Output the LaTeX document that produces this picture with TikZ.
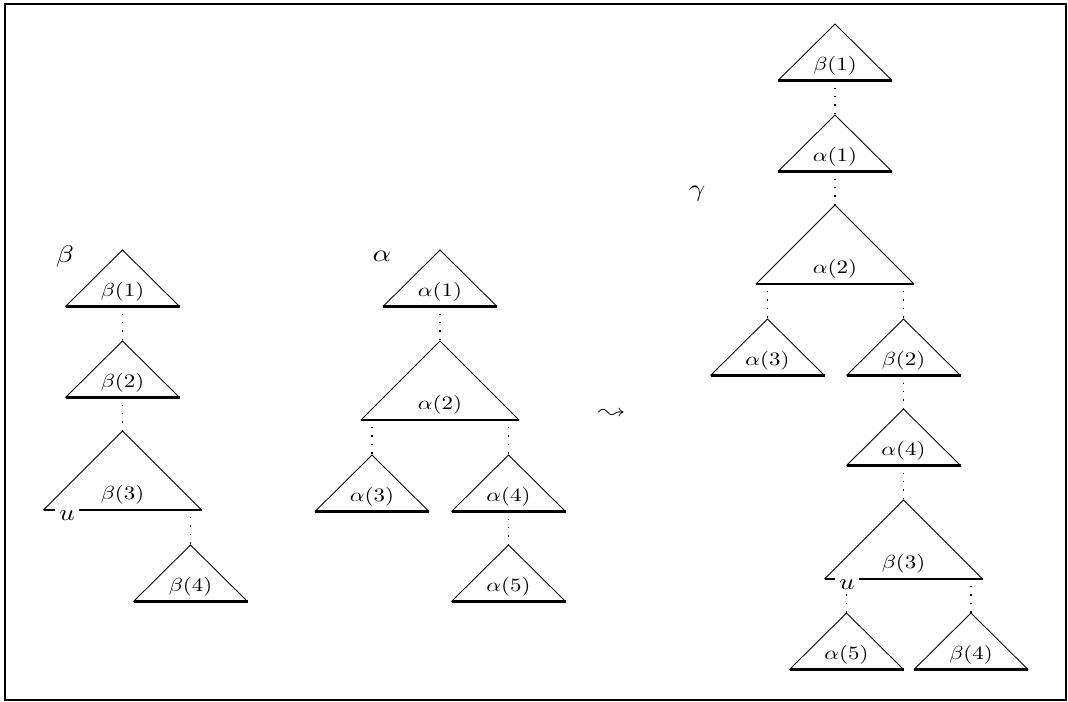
\documentclass[tikz,border=0pt]{standalone}
\usepackage{latexsym}
\usepackage{graphicx}
\tikzset{
  side/.style={line width=0.65pt},
  basel/.style={line width=1.6pt},
  dotl/.style={line width=1pt, dash pattern=on 1pt off 5.3pt, dash phase=1pt},
  lbl/.style={inner sep=0pt},
  biglbl/.style={inner sep=0pt},
  ulab/.style={fill=white, inner xsep=3pt, inner ysep=2pt},
  frame/.style={line width=1.2pt}
}
\newcommand{\smallstretch}[1]{\scalebox{1.72}[1.42]{#1}}
\newcommand{\bigstretch}[1]{\scalebox{2.16}[1.8]{#1}}
\newcommand{\ustretch}[1]{\scalebox{2.04}[1.7]{#1}}
\newcommand{\tri}[6]{%
  \coordinate (#1-top) at (#2,#3);
  \coordinate (#1-bl) at ({#2-#4},{#3+#5});
  \coordinate (#1-br) at ({#2+#4},{#3+#5});
  \coordinate (#1-bot) at (#2,{#3+#5});
  \draw[side] (#1-bl) -- (#1-top) -- (#1-br);
  \draw[basel] (#1-bl) -- (#1-br);
  \node[lbl] (#1-lbl) at (#2,{#3+#5-15}) {\smallstretch{$#6$}};
}
\begin{document}
\begin{tikzpicture}[x=0.75pt,y=-0.75pt]
\useasboundingbox (0,0) rectangle (1068,701);
\draw[frame] (5,4) rectangle (1066,700);

% left tree beta
\node[biglbl] (lbeta) at (65,256) {\bigstretch{$\beta$}};
\tri{lb1}{122.5}{250}{57}{56.5}{\beta(1)}
\tri{lb2}{122.5}{341}{57}{56.5}{\beta(2)}
\tri{lb3}{122.5}{431}{79}{79}{\beta(3)}
\tri{lb4}{190.5}{545}{57}{56.5}{\beta(4)}
\draw[dotl] (lb1-bot) -- (lb2-top);
\draw[dotl] (lb2-bot) -- (lb3-top);
\draw[dotl] (lb4-top |- lb3-bot) -- (lb4-top);
\node[ulab] (lu) at (67,515.5) {\ustretch{$u$}};

% middle tree alpha
\node[biglbl] (malpha) at (382,256.5) {\bigstretch{$\alpha$}};
\tri{ma1}{440}{250}{57}{56.5}{\alpha(1)}
\tri{ma2}{440}{341}{79}{79}{\alpha(2)}
\tri{ma3}{372}{455}{57}{56.5}{\alpha(3)}
\tri{ma4}{508.5}{455}{57}{56.5}{\alpha(4)}
\tri{ma5}{508.5}{545}{57}{56.5}{\alpha(5)}
\draw[dotl] (ma1-bot) -- (ma2-top);
\draw[dotl] (ma3-top |- ma2-bot) -- (ma3-top);
\draw[dotl] (ma4-top |- ma2-bot) -- (ma4-top);
\draw[dotl] (ma4-bot) -- (ma5-top);

% leadsto
\node[biglbl] (arr) at (612,414) {\scalebox{2.0}[1.8]{$\leadsto$}};

% right tree gamma
\node[biglbl] (rgamma) at (697,194) {\bigstretch{$\gamma$}};
\tri{rb1}{835}{24}{57}{56.5}{\beta(1)}
\tri{ra1}{835}{115}{57}{56.5}{\alpha(1)}
\tri{ra2}{835}{205}{79}{79}{\alpha(2)}
\tri{ra3}{767.5}{319}{57}{56.5}{\alpha(3)}
\tri{rb2}{903.5}{319}{57}{56.5}{\beta(2)}
\tri{ra4}{903.5}{409}{57}{56.5}{\alpha(4)}
\tri{rb3}{903.5}{500}{79}{79}{\beta(3)}
\tri{ra5}{846.5}{613}{57}{56.5}{\alpha(5)}
\tri{rb4}{971}{613}{57}{56.5}{\beta(4)}
\draw[dotl] (rb1-bot) -- (ra1-top);
\draw[dotl] (ra1-bot) -- (ra2-top);
\draw[dotl] (ra3-top |- ra2-bot) -- (ra3-top);
\draw[dotl] (rb2-top |- ra2-bot) -- (rb2-top);
\draw[dotl] (rb2-bot) -- (ra4-top);
\draw[dotl] (ra4-bot) -- (rb3-top);
\draw[dotl] (ra5-top |- rb3-bot) -- (ra5-top);
\draw[dotl] (rb4-top |- rb3-bot) -- (rb4-top);
\node[ulab] (ru) at (847,585) {\ustretch{$u$}};
\end{tikzpicture}
\end{document}
